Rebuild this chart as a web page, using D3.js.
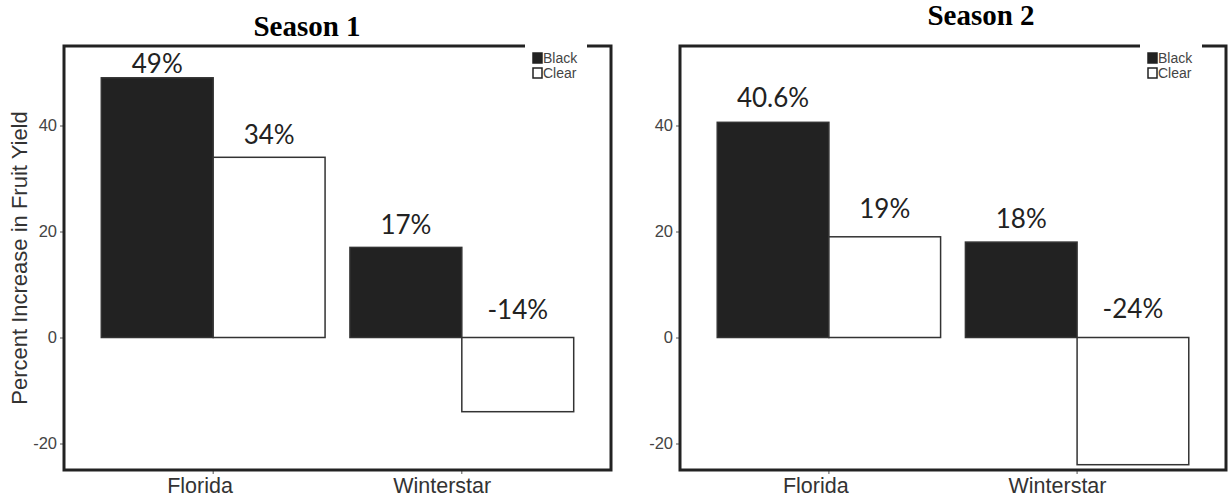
<!DOCTYPE html>
<html>
<head>
<meta charset="utf-8">
<script src="https://cdn.jsdelivr.net/npm/d3@7"></script>
<style>
  html, body { margin: 0; padding: 0; background: #fff; }
  svg { display: block; }
</style>
</head>
<body>
<svg id="chart" width="1228" height="502"></svg>
<script>
// ---- data ----
const categories = ["Florida", "Winterstar"];
const seriesNames = ["Black", "Clear"];
const seasonTitles = ["Season 1", "Season 2"];
const season1Black = [49, 17];
const season1Clear = [34, -14];
const season2Black = [40.6, 18];
const season2Clear = [19, -24];
// label anchor values (data units), order: Florida-Black, Florida-Clear, Winterstar-Black, Winterstar-Clear
const season1LabelY = [49.9, 36.5, 19.6, 3.5];
const season2LabelY = [43.5, 22.6, 20.7, 3.7];
const yTicks = [-20, 0, 20, 40];
const yDomain = [-25, 55];
const yTitle = "Percent Increase in Fruit Yield";

// ---- layout ----
const svg = d3.select("#chart");
const panels = [
  { left: 64, right: 611, title: seasonTitles[0], titleX: 307, titleY: 36,
    black: season1Black, clear: season1Clear, labelY: season1LabelY, showYTitle: true },
  { left: 680, right: 1226, title: seasonTitles[1], titleX: 981, titleY: 25,
    black: season2Black, clear: season2Clear, labelY: season2LabelY, showYTitle: false }
];
const panelTop = 46, panelBottom = 470;
const fills = { Black: "#222222", Clear: "#ffffff" };
const xLabelHjust = 0.7;

panels.forEach(p => {
  const g = svg.append("g");
  const x = d3.scaleBand().domain(categories).range([p.left, p.right])
    .paddingInner(0.1).paddingOuter(0.15);
  const xs = d3.scaleBand().domain(seriesNames).range([0, x.bandwidth()]);
  const y = d3.scaleLinear().domain(yDomain).range([panelBottom, panelTop]);

  const rows = [];
  categories.forEach((c, i) => {
    rows.push({ cat: c, s: "Black", v: p.black[i], ly: p.labelY[i * 2] });
    rows.push({ cat: c, s: "Clear", v: p.clear[i], ly: p.labelY[i * 2 + 1] });
  });

  // bars
  g.selectAll("rect.bar").data(rows).join("rect")
    .attr("class", "bar")
    .attr("x", d => x(d.cat) + xs(d.s))
    .attr("width", xs.bandwidth())
    .attr("y", d => y(Math.max(0, d.v)))
    .attr("height", d => Math.abs(y(d.v) - y(0)))
    .attr("fill", d => fills[d.s])
    .attr("stroke", "#333")
    .attr("stroke-width", 1.5);

  // value labels
  g.selectAll("text.val").data(rows).join("text")
    .attr("class", "val")
    .attr("x", d => x(d.cat) + xs(d.s) + xs.bandwidth() / 2)
    .attr("y", d => y(d.ly))
    .attr("text-anchor", "middle")
    .attr("font-family", "Lato, 'Open Sans', sans-serif")
    .attr("font-size", 26)
    .attr("fill", "#222")
    .text(d => d.v + "%");

  // axes
  const ya = g.append("g").attr("transform", `translate(${p.left},0)`)
    .call(d3.axisLeft(y).tickValues(yTicks).tickSize(4).tickPadding(3).tickFormat(d => String(d)));
  ya.select(".domain").remove();
  ya.selectAll(".tick line").attr("stroke", "#555");
  ya.selectAll(".tick text").attr("font-family", "'Liberation Sans', Arial, sans-serif")
    .attr("font-size", 16.5).attr("fill", "#444");

  const xa = g.append("g").attr("transform", `translate(0,${panelBottom})`)
    .call(d3.axisBottom(x).tickSize(4).tickPadding(4));
  xa.select(".domain").remove();
  xa.selectAll(".tick line").attr("stroke", "#555");
  xa.selectAll(".tick text").attr("font-family", "'Liberation Sans', Arial, sans-serif")
    .attr("font-size", 21.5).attr("fill", "#333")
    .attr("text-anchor", "start")
    .attr("x", function () { return -xLabelHjust * this.getComputedTextLength(); });

  // panel border
  g.append("rect")
    .attr("x", p.left).attr("y", panelTop)
    .attr("width", p.right - p.left).attr("height", panelBottom - panelTop)
    .attr("fill", "none").attr("stroke", "#222").attr("stroke-width", 3);

  // legend
  const lg = g.append("g").attr("transform", `translate(${p.right - 86},${panelTop - 3})`);
  lg.append("rect").attr("x", 0).attr("y", 0).attr("width", 62).attr("height", 38).attr("fill", "#fff");
  seriesNames.forEach((s, i) => {
    lg.append("rect").attr("x", 8).attr("y", 10 + i * 15).attr("width", 9).attr("height", 10)
      .attr("fill", fills[s]).attr("stroke", "#222").attr("stroke-width", 1.5);
    lg.append("text").attr("x", 18).attr("y", 20 + i * 15)
      .attr("font-family", "'Liberation Sans', Arial, sans-serif")
      .attr("font-size", 14).attr("fill", "#444").text(s);
  });

  // title
  svg.append("text").attr("x", p.titleX).attr("y", p.titleY)
    .attr("text-anchor", "middle")
    .attr("font-family", "'Liberation Serif', 'Times New Roman', serif")
    .attr("font-weight", "bold").attr("font-size", 29).attr("fill", "#000")
    .text(p.title);

  if (p.showYTitle) {
    svg.append("text")
      .attr("transform", `translate(27,${(panelTop + panelBottom) / 2}) rotate(-90)`)
      .attr("text-anchor", "middle")
      .attr("font-family", "'Liberation Sans', Arial, sans-serif")
      .attr("font-size", 22).attr("fill", "#333")
      .text(yTitle);
  }
});
</script>
</body>
</html>
